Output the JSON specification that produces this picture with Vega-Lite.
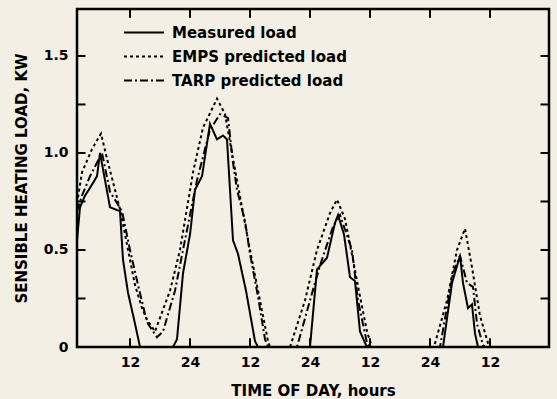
{
  "$schema": "https://vega.github.io/schema/vega-lite/v6.json",
  "width": 472,
  "height": 338,
  "autosize": {"type": "none"},
  "padding": {"left": 77, "top": 9, "right": 8, "bottom": 52},
  "background": "#f3efe5",
  "config": {
    "view": {"stroke": "#000", "strokeWidth": 2.5},
    "font": "DejaVu Sans",
    "axis": {
      "domain": false,
      "ticks": false,
      "grid": false,
      "labelFont": "DejaVu Sans",
      "labelFontWeight": "bold",
      "labelFontSize": 14,
      "labelColor": "#000",
      "titleFont": "DejaVu Sans",
      "titleFontWeight": "bold",
      "titleFontSize": 15,
      "titleColor": "#000"
    }
  },
  "datasets": {
    "frameTicks": [
      {"x0": 12, "x1": 12, "y0": 0, "y1": 0.045},
      {"x0": 24, "x1": 24, "y0": 0, "y1": 0.045},
      {"x0": 36, "x1": 36, "y0": 0, "y1": 0.045},
      {"x0": 48, "x1": 48, "y0": 0, "y1": 0.045},
      {"x0": 60, "x1": 60, "y0": 0, "y1": 0.045},
      {"x0": 72, "x1": 72, "y0": 0, "y1": 0.045},
      {"x0": 84, "x1": 84, "y0": 0, "y1": 0.045},
      {"x0": 12, "x1": 12, "y0": 1.742, "y1": 1.697},
      {"x0": 24, "x1": 24, "y0": 1.742, "y1": 1.697},
      {"x0": 36, "x1": 36, "y0": 1.742, "y1": 1.697},
      {"x0": 48, "x1": 48, "y0": 1.742, "y1": 1.697},
      {"x0": 60, "x1": 60, "y0": 1.742, "y1": 1.697},
      {"x0": 72, "x1": 72, "y0": 1.742, "y1": 1.697},
      {"x0": 84, "x1": 84, "y0": 1.742, "y1": 1.697},
      {"x0": 1.4, "x1": 3.1, "y0": 0.25, "y1": 0.25},
      {"x0": 1.4, "x1": 3.1, "y0": 0.5, "y1": 0.5},
      {"x0": 1.4, "x1": 3.1, "y0": 0.75, "y1": 0.75},
      {"x0": 1.4, "x1": 3.1, "y0": 1.0, "y1": 1.0},
      {"x0": 1.4, "x1": 3.1, "y0": 1.25, "y1": 1.25},
      {"x0": 1.4, "x1": 3.1, "y0": 1.5, "y1": 1.5},
      {"x0": 95.8, "x1": 94.1, "y0": 0.25, "y1": 0.25},
      {"x0": 95.8, "x1": 94.1, "y0": 0.5, "y1": 0.5},
      {"x0": 95.8, "x1": 94.1, "y0": 0.75, "y1": 0.75},
      {"x0": 95.8, "x1": 94.1, "y0": 1.0, "y1": 1.0},
      {"x0": 95.8, "x1": 94.1, "y0": 1.25, "y1": 1.25},
      {"x0": 95.8, "x1": 94.1, "y0": 1.5, "y1": 1.5}
    ],
    "loads": [
      {"s": "Measured load", "h": 1.4, "v": 0.55},
      {"s": "Measured load", "h": 2.0, "v": 0.72},
      {"s": "Measured load", "h": 3.0, "v": 0.78},
      {"s": "Measured load", "h": 4.0, "v": 0.82},
      {"s": "Measured load", "h": 5.4, "v": 0.88},
      {"s": "Measured load", "h": 6.0, "v": 1.0},
      {"s": "Measured load", "h": 7.0, "v": 0.86},
      {"s": "Measured load", "h": 8.0, "v": 0.72},
      {"s": "Measured load", "h": 10.0, "v": 0.70},
      {"s": "Measured load", "h": 10.6, "v": 0.45},
      {"s": "Measured load", "h": 11.6, "v": 0.28},
      {"s": "Measured load", "h": 13.0, "v": 0.12},
      {"s": "Measured load", "h": 14.0, "v": 0},
      {"s": "Measured load", "h": 20.6, "v": 0},
      {"s": "Measured load", "h": 21.4, "v": 0.04},
      {"s": "Measured load", "h": 22.6, "v": 0.38},
      {"s": "Measured load", "h": 24.0, "v": 0.58},
      {"s": "Measured load", "h": 25.0, "v": 0.81},
      {"s": "Measured load", "h": 26.4, "v": 0.88},
      {"s": "Measured load", "h": 28.0, "v": 1.15},
      {"s": "Measured load", "h": 29.4, "v": 1.07},
      {"s": "Measured load", "h": 30.6, "v": 1.09},
      {"s": "Measured load", "h": 31.4, "v": 1.07},
      {"s": "Measured load", "h": 32.6, "v": 0.55},
      {"s": "Measured load", "h": 33.6, "v": 0.48},
      {"s": "Measured load", "h": 35.2, "v": 0.29},
      {"s": "Measured load", "h": 37.0, "v": 0.03},
      {"s": "Measured load", "h": 37.6, "v": 0},
      {"s": "Measured load", "h": 48.0, "v": 0},
      {"s": "Measured load", "h": 49.4, "v": 0.40},
      {"s": "Measured load", "h": 51.4, "v": 0.46},
      {"s": "Measured load", "h": 53.0, "v": 0.64},
      {"s": "Measured load", "h": 53.6, "v": 0.68},
      {"s": "Measured load", "h": 54.8, "v": 0.58},
      {"s": "Measured load", "h": 56.0, "v": 0.36},
      {"s": "Measured load", "h": 57.0, "v": 0.34},
      {"s": "Measured load", "h": 58.0, "v": 0.08},
      {"s": "Measured load", "h": 59.2, "v": 0.01},
      {"s": "Measured load", "h": 59.6, "v": 0},
      {"s": "Measured load", "h": 74.6, "v": 0},
      {"s": "Measured load", "h": 76.4, "v": 0.33},
      {"s": "Measured load", "h": 78.0, "v": 0.47},
      {"s": "Measured load", "h": 78.6, "v": 0.33},
      {"s": "Measured load", "h": 79.6, "v": 0.20},
      {"s": "Measured load", "h": 80.4, "v": 0.22},
      {"s": "Measured load", "h": 81.0, "v": 0.07},
      {"s": "Measured load", "h": 81.6, "v": 0},
      {"s": "Measured load", "h": 95.8, "v": 0},

      {"s": "EMPS predicted load", "h": 1.4, "v": 0.74},
      {"s": "EMPS predicted load", "h": 2.4, "v": 0.90},
      {"s": "EMPS predicted load", "h": 4.4, "v": 1.02},
      {"s": "EMPS predicted load", "h": 6.2, "v": 1.10},
      {"s": "EMPS predicted load", "h": 7.4, "v": 0.97},
      {"s": "EMPS predicted load", "h": 10.0, "v": 0.71},
      {"s": "EMPS predicted load", "h": 13.0, "v": 0.32},
      {"s": "EMPS predicted load", "h": 14.4, "v": 0.20},
      {"s": "EMPS predicted load", "h": 15.4, "v": 0.14},
      {"s": "EMPS predicted load", "h": 17.0, "v": 0.08},
      {"s": "EMPS predicted load", "h": 20.0, "v": 0.29},
      {"s": "EMPS predicted load", "h": 22.0, "v": 0.50},
      {"s": "EMPS predicted load", "h": 24.6, "v": 0.90},
      {"s": "EMPS predicted load", "h": 26.6, "v": 1.13},
      {"s": "EMPS predicted load", "h": 29.4, "v": 1.28},
      {"s": "EMPS predicted load", "h": 31.0, "v": 1.20},
      {"s": "EMPS predicted load", "h": 32.6, "v": 0.97},
      {"s": "EMPS predicted load", "h": 34.4, "v": 0.72},
      {"s": "EMPS predicted load", "h": 36.0, "v": 0.50},
      {"s": "EMPS predicted load", "h": 38.0, "v": 0.24},
      {"s": "EMPS predicted load", "h": 39.6, "v": 0.03},
      {"s": "EMPS predicted load", "h": 40.0, "v": 0},
      {"s": "EMPS predicted load", "h": 44.0, "v": 0},
      {"s": "EMPS predicted load", "h": 47.0, "v": 0.24},
      {"s": "EMPS predicted load", "h": 49.4, "v": 0.50},
      {"s": "EMPS predicted load", "h": 52.0, "v": 0.69},
      {"s": "EMPS predicted load", "h": 53.4, "v": 0.76},
      {"s": "EMPS predicted load", "h": 55.0, "v": 0.66},
      {"s": "EMPS predicted load", "h": 56.6, "v": 0.45},
      {"s": "EMPS predicted load", "h": 58.0, "v": 0.26},
      {"s": "EMPS predicted load", "h": 59.4, "v": 0.08},
      {"s": "EMPS predicted load", "h": 60.4, "v": 0},
      {"s": "EMPS predicted load", "h": 72.8, "v": 0},
      {"s": "EMPS predicted load", "h": 75.4, "v": 0.24},
      {"s": "EMPS predicted load", "h": 77.4, "v": 0.50},
      {"s": "EMPS predicted load", "h": 79.0, "v": 0.61},
      {"s": "EMPS predicted load", "h": 80.4, "v": 0.41},
      {"s": "EMPS predicted load", "h": 82.0, "v": 0.16},
      {"s": "EMPS predicted load", "h": 83.6, "v": 0.02},
      {"s": "EMPS predicted load", "h": 84.0, "v": 0},
      {"s": "EMPS predicted load", "h": 95.8, "v": 0},

      {"s": "TARP predicted load", "h": 1.4, "v": 0.70},
      {"s": "TARP predicted load", "h": 2.4, "v": 0.78},
      {"s": "TARP predicted load", "h": 4.0, "v": 0.88},
      {"s": "TARP predicted load", "h": 6.4, "v": 1.00},
      {"s": "TARP predicted load", "h": 8.0, "v": 0.80},
      {"s": "TARP predicted load", "h": 10.4, "v": 0.70},
      {"s": "TARP predicted load", "h": 12.0, "v": 0.50},
      {"s": "TARP predicted load", "h": 13.6, "v": 0.32},
      {"s": "TARP predicted load", "h": 15.0, "v": 0.17},
      {"s": "TARP predicted load", "h": 15.6, "v": 0.12},
      {"s": "TARP predicted load", "h": 17.4, "v": 0.05},
      {"s": "TARP predicted load", "h": 18.6, "v": 0.08},
      {"s": "TARP predicted load", "h": 21.0, "v": 0.29},
      {"s": "TARP predicted load", "h": 22.6, "v": 0.50},
      {"s": "TARP predicted load", "h": 25.4, "v": 0.86},
      {"s": "TARP predicted load", "h": 28.0, "v": 1.12},
      {"s": "TARP predicted load", "h": 30.0, "v": 1.20},
      {"s": "TARP predicted load", "h": 31.6, "v": 1.18},
      {"s": "TARP predicted load", "h": 32.6, "v": 0.95},
      {"s": "TARP predicted load", "h": 33.4, "v": 0.81},
      {"s": "TARP predicted load", "h": 35.0, "v": 0.65},
      {"s": "TARP predicted load", "h": 36.0, "v": 0.48},
      {"s": "TARP predicted load", "h": 37.6, "v": 0.26},
      {"s": "TARP predicted load", "h": 39.0, "v": 0.04},
      {"s": "TARP predicted load", "h": 39.6, "v": 0},
      {"s": "TARP predicted load", "h": 45.4, "v": 0},
      {"s": "TARP predicted load", "h": 48.0, "v": 0.24},
      {"s": "TARP predicted load", "h": 50.0, "v": 0.42},
      {"s": "TARP predicted load", "h": 52.6, "v": 0.62},
      {"s": "TARP predicted load", "h": 54.0, "v": 0.68},
      {"s": "TARP predicted load", "h": 56.4, "v": 0.50},
      {"s": "TARP predicted load", "h": 57.6, "v": 0.24},
      {"s": "TARP predicted load", "h": 59.4, "v": 0.02},
      {"s": "TARP predicted load", "h": 60.0, "v": 0},
      {"s": "TARP predicted load", "h": 74.0, "v": 0},
      {"s": "TARP predicted load", "h": 76.6, "v": 0.38},
      {"s": "TARP predicted load", "h": 78.0, "v": 0.47},
      {"s": "TARP predicted load", "h": 79.4, "v": 0.33},
      {"s": "TARP predicted load", "h": 80.6, "v": 0.31},
      {"s": "TARP predicted load", "h": 81.4, "v": 0.12},
      {"s": "TARP predicted load", "h": 82.6, "v": 0.01},
      {"s": "TARP predicted load", "h": 83.0, "v": 0},
      {"s": "TARP predicted load", "h": 95.8, "v": 0}
    ]
  },
  "layer": [
    {
      "data": {"name": "loads"},
      "mark": {"type": "line", "color": "#000", "strokeWidth": 2, "clip": true},
      "encoding": {
        "x": {
          "field": "h",
          "type": "quantitative",
          "scale": {"domain": [1.4, 95.8], "nice": false, "zero": false},
          "axis": {
            "orient": "bottom",
            "values": [12, 24, 36, 48, 60, 72, 84],
            "labelExpr": "datum.value % 24 == 0 ? '24' : '12'",
            "labelPadding": 8,
            "title": "TIME OF DAY, hours",
            "titlePadding": 14
          }
        },
        "y": {
          "field": "v",
          "type": "quantitative",
          "scale": {"domain": [0, 1.742], "nice": false},
          "axis": {
            "orient": "left",
            "values": [0, 0.5, 1, 1.5],
            "labelExpr": "datum.value == 0 ? '0' : format(datum.value, '.1f')",
            "labelPadding": 9,
            "title": "SENSIBLE HEATING LOAD, KW",
            "titlePadding": 14
          }
        },
        "strokeDash": {
          "field": "s",
          "type": "nominal",
          "scale": {
            "domain": ["Measured load", "EMPS predicted load", "TARP predicted load"],
            "range": [[1, 0], [3, 3], [8, 3, 2, 3]]
          },
          "legend": {
            "orient": "none",
            "legendX": 46,
            "legendY": 16,
            "title": null,
            "padding": 0,
            "symbolType": "stroke",
            "symbolSize": 1600,
            "symbolStrokeWidth": 2,
            "symbolStrokeColor": "#000",
            "labelFont": "DejaVu Sans",
            "labelFontWeight": "bold",
            "labelFontSize": 15,
            "labelColor": "#000",
            "labelOffset": 7,
            "labelLimit": 300,
            "clipHeight": 15,
            "rowPadding": 8
          }
        }
      }
    },
    {
      "data": {"name": "frameTicks"},
      "mark": {"type": "rule", "color": "#000", "strokeWidth": 2},
      "encoding": {
        "x": {"field": "x0", "type": "quantitative"},
        "x2": {"field": "x1"},
        "y": {"field": "y0", "type": "quantitative"},
        "y2": {"field": "y1"}
      }
    }
  ]
}
